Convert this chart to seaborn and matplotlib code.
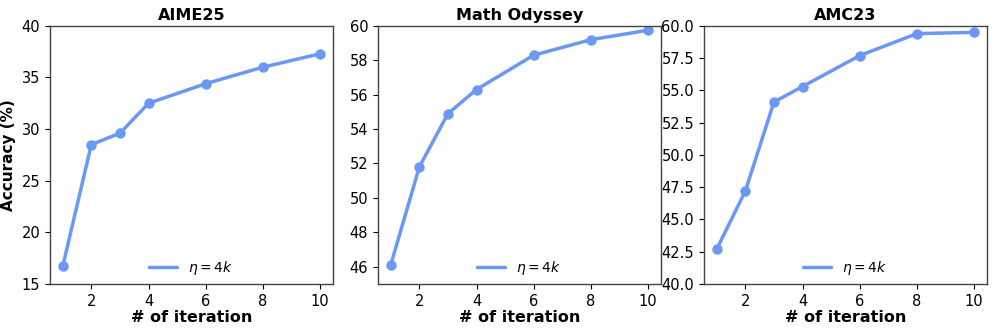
import matplotlib
matplotlib.use("Agg")
import matplotlib.pyplot as plt
import seaborn as sns
import pandas as pd
from matplotlib.lines import Line2D

iterations = [1, 2, 3, 4, 6, 8, 10]
aime25 = [16.7, 28.5, 29.6, 32.5, 34.4, 36.0, 37.3]
math_odyssey = [46.1, 51.8, 54.9, 56.3, 58.3, 59.2, 59.75]
amc23 = [42.7, 47.2, 54.1, 55.3, 57.7, 59.4, 59.5]
titles = ["AIME25", "Math Odyssey", "AMC23"]
series = [aime25, math_odyssey, amc23]
ylims = [(15, 40), (45, 60), (40, 60)]
xticks = [2, 4, 6, 8, 10]
label = r"$\eta = 4k$"

sns.set_style("white")
plt.rcParams['font.family'] = ['DejaVu Sans']
plt.rcParams['text.color'] = 'black'
plt.rcParams['axes.labelcolor'] = 'black'
plt.rcParams['xtick.color'] = 'black'
plt.rcParams['ytick.color'] = 'black'

fig = plt.figure(figsize=(9.97, 3.32), dpi=100)
lefts = [0.050, 0.379, 0.706]
width = 0.284
bottom, top = 0.145, 0.922
color = "#6A98F4"

for i, (t, vals, yl) in enumerate(zip(titles, series, ylims)):
    ax = fig.add_axes([lefts[i], bottom, width, top - bottom])
    df = pd.DataFrame({"iter": iterations, "acc": vals})
    sns.lineplot(data=df, x="iter", y="acc", ax=ax, color=color, linewidth=2.5,
                 marker="o", markersize=7.5, markeredgewidth=0, legend=False)
    ax.set_ylim(*yl)
    ax.set_xlim(0.55, 10.45)
    ax.set_xticks(xticks)
    ax.set_title(t, fontsize=11.5, fontweight="bold", pad=4, color="black")
    ax.set_xlabel("# of iteration", fontsize=11.5, fontweight="bold", labelpad=1)
    if i == 0:
        ax.set_ylabel("Accuracy (%)", fontsize=11, fontweight="bold", labelpad=4)
    else:
        ax.set_ylabel("")
    ax.tick_params(axis="both", labelsize=10.5, length=3.5, width=0.8, direction="out",
                   bottom=True, left=True)
    for s in ax.spines.values():
        s.set_color("#444444")
        s.set_linewidth(1.0)
    handle = Line2D([0], [0], color=color, linewidth=2.5)
    ax.legend([handle], [label], loc="lower center", bbox_to_anchor=(0.5, -0.02),
              frameon=False, fontsize=10)
    if i == 2:
        ax.yaxis.set_major_formatter(matplotlib.ticker.FormatStrFormatter("%.1f"))

fig.savefig("out.png", dpi=100)
